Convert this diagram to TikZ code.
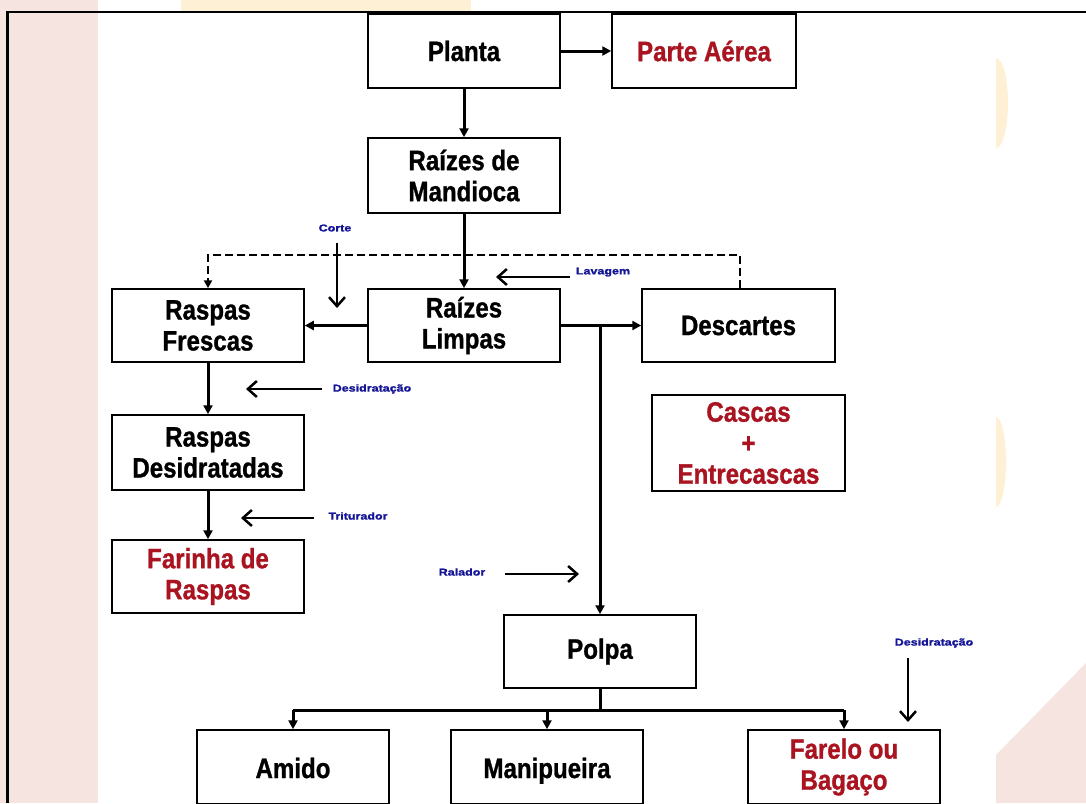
\documentclass[tikz,border=0pt]{standalone}
\usepackage{fontspec}
\usetikzlibrary{arrows.meta}
\newfontfamily\boxfont[FakeStretch=0.86,FakeBold=1,UprightFont={* Bold}]{Liberation Sans}
\newfontfamily\lblfont[FakeStretch=1.25,FakeBold=1.5,UprightFont={* Bold}]{Liberation Sans}
\definecolor{boxred}{RGB}{170,20,32}
\definecolor{lblblue}{RGB}{20,20,150}
\definecolor{bgpink}{RGB}{246,228,225}
\definecolor{bgpeach}{RGB}{254,240,213}
\tikzset{
  box/.style={draw=black, line width=1.5pt, fill=white, minimum width=192pt, minimum height=74pt, inner sep=0pt, align=center, font=\boxfont\fontsize{28}{31}\selectfont},
  lowtext/.style={text height=22pt, text depth=0pt},
  redtxt/.style={text=boxred},
  flow/.style={line width=3pt, -{Triangle[length=9pt,width=9pt]}},
  flowline/.style={line width=3pt},
  dashflow/.style={line width=2.5pt, dashed, dash pattern=on 8pt off 4pt, -{Triangle[length=8pt,width=8pt]}},
  lbl/.style={text=lblblue, inner sep=0pt, font=\lblfont\fontsize{10}{12}\selectfont},
  lblarrow/.style={line width=2.5pt, -{Straight Barb[length=9pt,width=16pt,line width=2.5pt]}}
}
\begin{document}
\begin{tikzpicture}[x=1pt,y=-1pt]
\useasboundingbox (0,0) rectangle (1086,803);
% background
\fill[bgpink] (0,0) rectangle (98,803);
\fill[bgpink] (996,755) -- (1086,663) -- (1086,803) -- (996,803) -- cycle;
\fill[bgpeach] (181,0) rectangle (471,11);
\fill[bgpeach] (996,58) arc[start angle=90, end angle=-90, x radius=12, y radius=-45];
\fill[bgpeach] (996,417) arc[start angle=90, end angle=-90, x radius=10, y radius=-45];
% frame lines
\draw[line width=2.5pt] (1086,12) -- (7.5,12) -- (7.5,803);
% boxes
\node[box] (planta) at (464,51) {Planta};
\node[box, redtxt, minimum width=184pt] (aerea) at (704,51) {Parte Aérea};
\node[box, minimum height=75pt] (mand) at (464,175.5) {Raízes de\\Mandioca};
\node[box, minimum height=73pt] (limpas) at (464,325.5) {Raízes\\Limpas};
\node[box, minimum height=73pt] (frescas) at (208,325.5) {Raspas\\Frescas};
\node[box, minimum height=73pt, minimum width=193pt] (desc) at (738.5,325.5) {Descartes};
\node[box, minimum height=75pt] (desid) at (208,452.5) {Raspas\\Desidratadas};
\node[box, redtxt, minimum height=73pt] (farinha) at (208,576.5) {Farinha de\\Raspas};
\node[box, redtxt, minimum height=96pt, minimum width=193pt] (cascas) at (748.5,443) {Cascas\\+\\Entrecascas};
\node[box, minimum height=73pt] (polpa) at (600,651.5) {Polpa};
\node[box, lowtext] (amido) at (293,767) {Amido};
\node[box, lowtext] (manip) at (547,767) {Manipueira};
\node[box, redtxt] (farelo) at (844,767) {Farelo ou\\Bagaço};
% main connectors
\draw[flow] (planta.east) -- (aerea.west);
\draw[flow] (planta.south) -- (mand.north);
\draw[flow] (mand.south) -- (limpas.north);
\draw[flow] (limpas.west) -- (frescas.east);
\draw[flow] (limpas.east) -- (desc.west);
\coordinate (jn) at (600,325.5);
\draw[flow] (jn) -- (polpa.north);
\coordinate (dtopR) at (740,255);
\coordinate (dtopL) at (208,255);
\draw[dashflow] (desc.north -| dtopR) -- (dtopR) -- (dtopL) -- (frescas.north);
\draw[flow] (frescas.south) -- (desid.north);
\draw[flow] (desid.south) -- (farinha.north);
\coordinate (pj) at (600,710);
\draw[flowline] (polpa.south) -- (pj);
\draw[flowline] (pj -| amido.north) -- (pj -| farelo.north);
\draw[flow] (pj -| amido.north) -- (amido.north);
\draw[flow] (pj -| manip.north) -- (manip.north);
\draw[flow] (pj -| farelo.north) -- (farelo.north);
% labels with arrows
\node[lbl] (corte) at (335,228) {Corte};
\coordinate (corteA) at (337,243);
\coordinate (corteB) at (337,308);
\draw[lblarrow] (corteA) -- (corteB);
\node[lbl] (lav) at (603,272) {Lavagem};
\coordinate (lavA) at (570,277);
\coordinate (lavB) at (496,277);
\draw[lblarrow] (lavA) -- (lavB);
\node[lbl] (desid1) at (372,389) {Desidratação};
\coordinate (d1A) at (322,389);
\coordinate (d1B) at (246,389);
\draw[lblarrow] (d1A) -- (d1B);
\node[lbl] (trit) at (358,516) {Triturador};
\coordinate (trA) at (314,518);
\coordinate (trB) at (241,518);
\draw[lblarrow] (trA) -- (trB);
\node[lbl] (ral) at (462,572) {Ralador};
\coordinate (raA) at (505,574);
\coordinate (raB) at (579,574);
\draw[lblarrow] (raA) -- (raB);
\node[lbl] (desid2) at (934,643) {Desidratação};
\coordinate (d2A) at (908,658);
\coordinate (d2B) at (908,722);
\draw[lblarrow] (d2A) -- (d2B);
\end{tikzpicture}
\end{document}
